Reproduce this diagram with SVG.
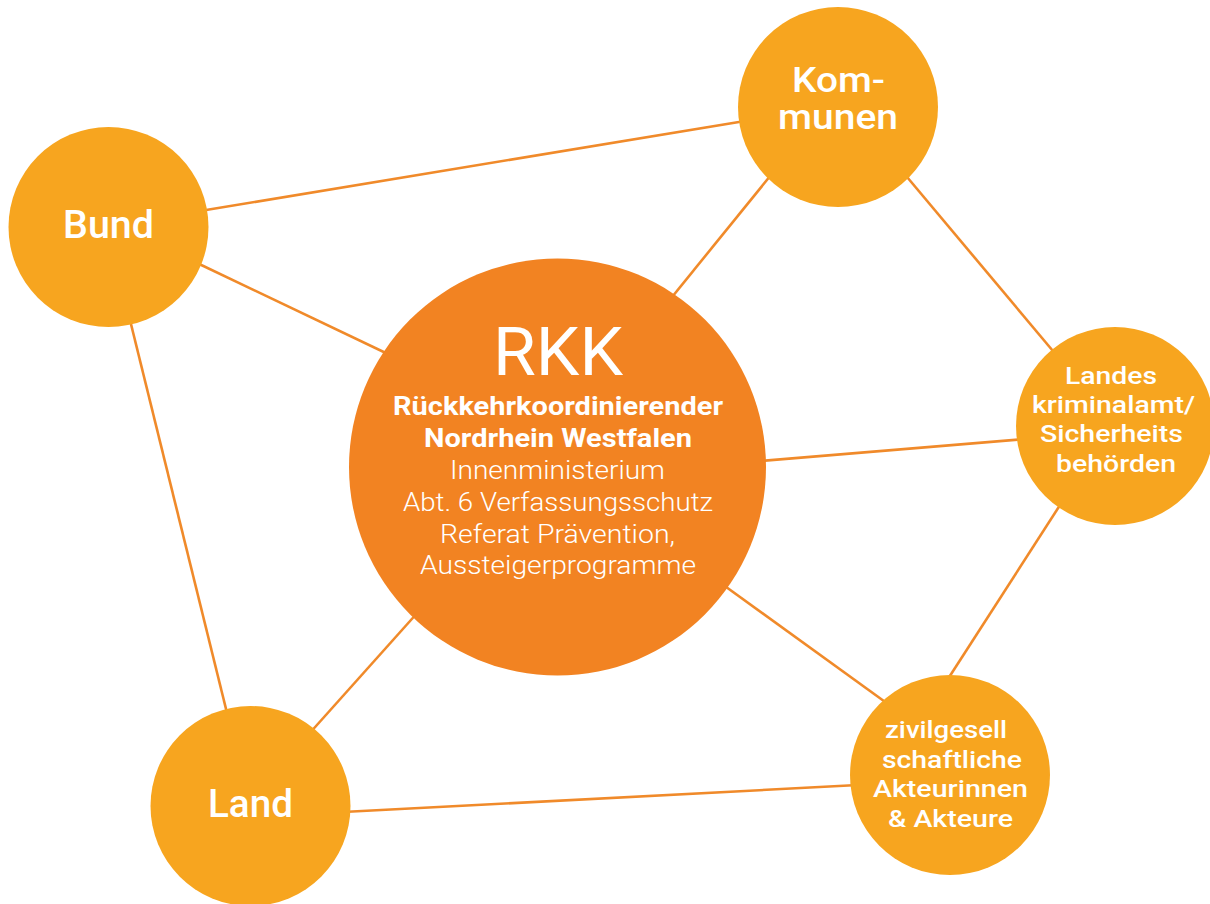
<svg xmlns="http://www.w3.org/2000/svg" width="1210" height="904" viewBox="0 0 1210 904">
  <style>
    .edge { stroke: #F08A2A; stroke-width: 2.6; fill: none; }
    .node { fill: #F7A51F; }
    .hub { fill: #F28322; }
    text { font-family: Roboto, "Noto Sans", sans-serif; fill: #FFFFFF; text-anchor: middle; }
    .lbl { font-size: 38px; font-weight: 500; }
    .lbl2 { font-size: 35px; font-weight: 500; }
    .sm { font-size: 24px; font-weight: 500; }
    .big { font-size: 67px; font-weight: 400; }
    .bold { font-size: 25px; font-weight: 700; }
    .light { font-size: 26px; font-weight: 300; }
  </style>
  <rect width="1210" height="904" fill="#FFFFFF"/>

  <!-- connectors -->
  <g id="connectors">
    <line class="edge" x1="200" y1="211" x2="745" y2="121"/>
    <line class="edge" x1="195" y1="262" x2="390" y2="355"/>
    <line class="edge" x1="129" y1="316" x2="228" y2="717"/>
    <line class="edge" x1="775" y1="170" x2="668" y2="302"/>
    <line class="edge" x1="902" y1="171" x2="1058" y2="357"/>
    <line class="edge" x1="760" y1="461" x2="1025" y2="439"/>
    <line class="edge" x1="1062" y1="502" x2="946" y2="682"/>
    <line class="edge" x1="722" y1="584" x2="888" y2="704"/>
    <line class="edge" x1="419" y1="611" x2="308" y2="735"/>
    <line class="edge" x1="343" y1="812" x2="858" y2="785"/>
  </g>

  <g id="bund">
    <circle class="node" cx="108.5" cy="227" r="100"/>
    <text class="lbl" x="108.5" y="238" textLength="91" lengthAdjust="spacingAndGlyphs">Bund</text>
  </g>

  <g id="kommunen">
    <circle class="node" cx="838" cy="107" r="100"/>
    <text class="lbl2" x="838.5" y="92" textLength="93" lengthAdjust="spacingAndGlyphs">Kom-</text>
    <text class="lbl2" x="838" y="129" textLength="120" lengthAdjust="spacingAndGlyphs">munen</text>
  </g>

  <g id="rkk">
    <circle class="hub" cx="557.5" cy="467" r="208.5"/>
    <text class="big" x="558" y="375" textLength="130" lengthAdjust="spacingAndGlyphs">RKK</text>
    <text class="bold" x="558" y="415" textLength="330" lengthAdjust="spacingAndGlyphs">Rückkehrkoordinierender</text>
    <text class="bold" x="558" y="447" textLength="268" lengthAdjust="spacingAndGlyphs">Nordrhein Westfalen</text>
    <text class="light" x="557.5" y="479" textLength="215" lengthAdjust="spacingAndGlyphs">Innenministerium</text>
    <text class="light" x="558" y="511" textLength="310" lengthAdjust="spacingAndGlyphs">Abt. 6 Verfassungsschutz</text>
    <text class="light" x="557.5" y="543" textLength="235" lengthAdjust="spacingAndGlyphs">Referat Prävention,</text>
    <text class="light" x="558" y="574" textLength="276" lengthAdjust="spacingAndGlyphs">Aussteigerprogramme</text>
  </g>

  <g id="landeskriminalamt">
    <circle class="node" cx="1115" cy="426" r="99"/>
    <text class="sm" x="1111" y="384" textLength="92" lengthAdjust="spacingAndGlyphs">Landes</text>
    <text class="sm" x="1113.5" y="413" textLength="163" lengthAdjust="spacingAndGlyphs">kriminalamt/</text>
    <text class="sm" x="1111.5" y="442" textLength="143" lengthAdjust="spacingAndGlyphs">Sicherheits</text>
    <text class="sm" x="1116" y="472" textLength="120" lengthAdjust="spacingAndGlyphs">behörden</text>
  </g>

  <g id="land">
    <circle class="node" cx="250.5" cy="806" r="100"/>
    <text class="lbl" x="250.5" y="817" textLength="85" lengthAdjust="spacingAndGlyphs">Land</text>
  </g>

  <g id="zivilgesellschaft">
    <circle class="node" cx="950" cy="775" r="100"/>
    <text class="sm" x="946" y="738" textLength="122" lengthAdjust="spacingAndGlyphs">zivilgesell</text>
    <text class="sm" x="952" y="768" textLength="140" lengthAdjust="spacingAndGlyphs">schaftliche</text>
    <text class="sm" x="950.5" y="797" textLength="155" lengthAdjust="spacingAndGlyphs">Akteurinnen</text>
    <text class="sm" x="950.5" y="827" textLength="125" lengthAdjust="spacingAndGlyphs">&amp; Akteure</text>
  </g>
</svg>
